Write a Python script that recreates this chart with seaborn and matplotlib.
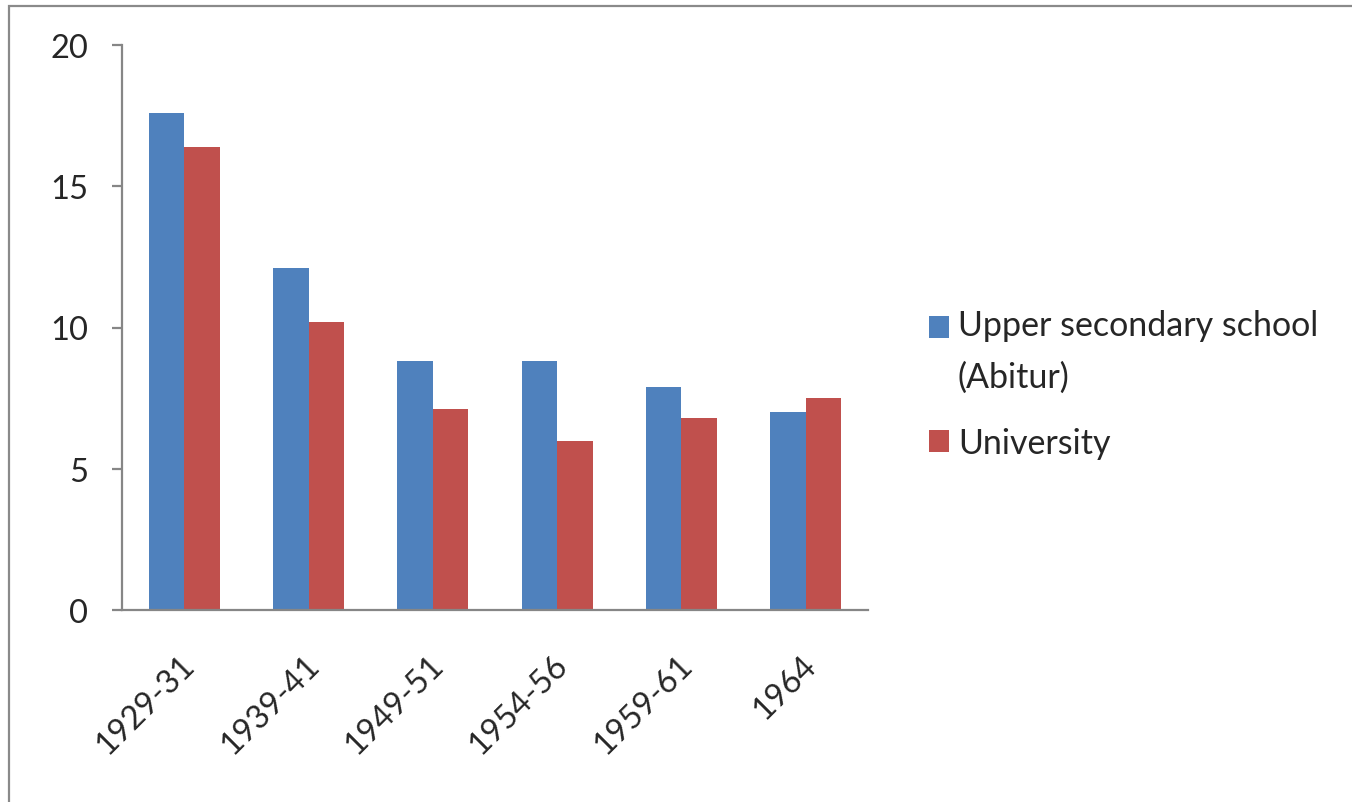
import matplotlib
matplotlib.use("Agg")
import matplotlib.pyplot as plt
import matplotlib.transforms as mtransforms
import seaborn as sns
import pandas as pd
from matplotlib.patches import Patch, Rectangle

# Share of age cohort (%), by period
periods = ["1929-31", "1939-41", "1949-51", "1954-56", "1959-61", "1964"]
abitur = [17.6, 12.1, 8.8, 8.8, 7.9, 7.0]
university = [16.4, 10.2, 7.1, 6.0, 6.8, 7.5]
series_names = ["Upper secondary school\n(Abitur)", "University"]
y_ticks = [0, 5, 10, 15, 20]

colors = ["#4F81BD", "#C0504D"]
axis_grey = "#868686"

df = pd.DataFrame({"period": periods, series_names[0]: abitur, series_names[1]: university})
long_df = df.melt(id_vars="period", var_name="series", value_name="value")

sns.set_theme(style="white")
plt.rcParams["font.family"] = ["Lato", "DejaVu Sans"]

fig = plt.figure(figsize=(13.52, 8.03), dpi=100)
ax = fig.add_axes([122 / 1352, 1 - 611 / 803, (868 - 122) / 1352, (611 - 46) / 803])

sns.barplot(data=long_df, x="period", y="value", hue="series", order=periods,
            hue_order=series_names, palette=colors, width=0.571, saturation=1,
            linewidth=0, ax=ax, legend=False)

ax.set_xlim(-0.5, len(periods) - 0.5)
ax.set_ylim(0, 20)
ax.set_yticks(y_ticks)
ax.set_xlabel("")
ax.set_ylabel("")

for side in ["top", "right"]:
    ax.spines[side].set_visible(False)
for side in ["left", "bottom"]:
    ax.spines[side].set_color(axis_grey)
    ax.spines[side].set_linewidth(1.6)

# category boundary tick marks on x, labels at category centres
ax.set_xticks([i - 0.5 for i in range(len(periods) + 1)], minor=True)
ax.tick_params(axis="x", which="minor", length=8.6, width=1.6, color=axis_grey, direction="out")
ax.tick_params(axis="x", which="major", length=0, pad=36, labelsize=23.5)
shift = mtransforms.ScaledTranslation(6 / 100, 0, fig.dpi_scale_trans)
for lbl in ax.get_xticklabels():
    lbl.set_rotation(45)
    lbl.set_ha("right")
    lbl.set_va("center")
    lbl.set_rotation_mode("anchor")
    lbl.set_transform(lbl.get_transform() + shift)

ax.tick_params(axis="y", length=7.5, width=1.6, color=axis_grey, direction="out",
               pad=17, labelsize=23.5, left=True)

handles = [Patch(facecolor=c, edgecolor="none") for c in colors]
leg = fig.legend(handles, series_names, loc="center left",
                 bbox_to_anchor=(929 / 1352, 1 - 385 / 803), frameon=False,
                 fontsize=24.5, handlelength=0.6, handleheight=0.6,
                 handletextpad=0.25, labelspacing=1.0, borderpad=0, borderaxespad=0)
for t in leg.get_texts():
    t.set_linespacing(1.75)
# keep the first marker beside the first text line
h0 = leg.legend_handles[0]
h0.set_y(h0.get_y() + 18)

# outer chart frame
fig.add_artist(Rectangle((8.5 / 1352, -0.1), 1.2, 1.1 - 6.5 / 803, transform=fig.transFigure,
                         fill=False, edgecolor="#8a8a8a", linewidth=1.6))

fig.savefig("out.png", dpi=100)
